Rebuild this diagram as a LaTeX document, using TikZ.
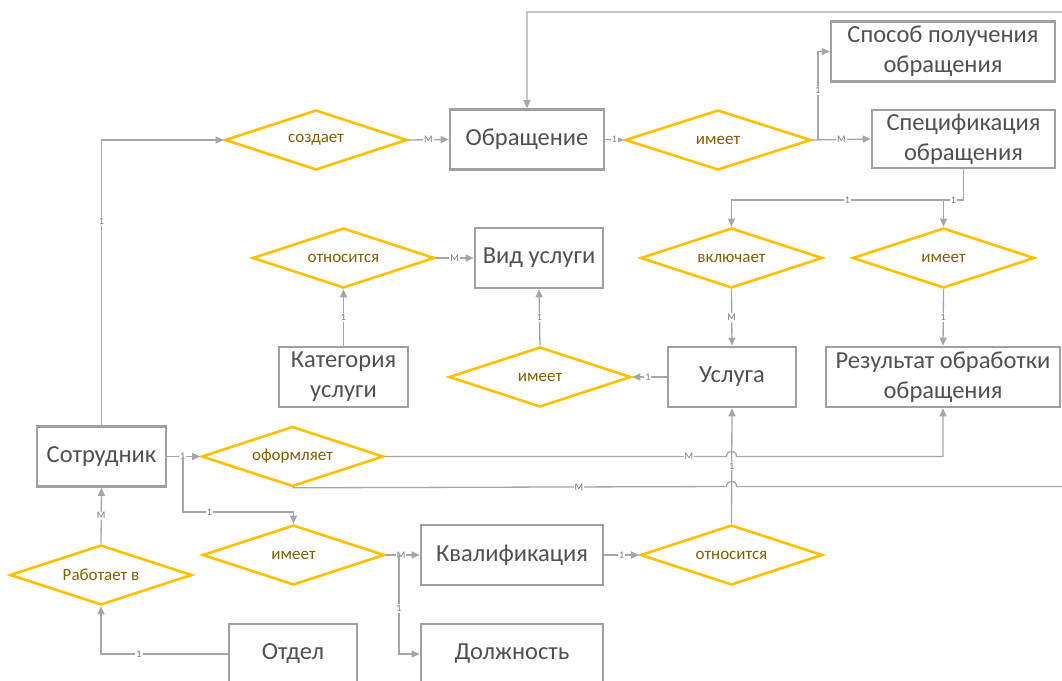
\documentclass[tikz,border=0pt]{standalone}
\usepackage{fontspec}
\setmainfont{Carlito}
\usetikzlibrary{shapes.geometric,arrows.meta}

\definecolor{entline}{RGB}{160,160,160}
\definecolor{enttext}{RGB}{80,80,80}
\definecolor{relline}{RGB}{255,192,0}
\definecolor{reltext}{RGB}{127,96,0}
\definecolor{connline}{RGB}{166,166,166}
\definecolor{cardtext}{RGB}{120,120,120}

\tikzset{
  entity/.style={draw=entline, line width=2.6pt, rectangle, text=enttext,
    font=\fontsize{24.5}{30}\selectfont, align=center, inner sep=0pt},
  relation/.style={draw=relline, line width=2.6pt, diamond, aspect=3,
    minimum width=182pt, minimum height=60pt, inner sep=0pt, text=reltext,
    font=\fontsize{17}{20}\selectfont},
  conn/.style={draw=connline, line width=1.3pt, -{Triangle[length=8pt,width=7pt]}},
  card/.style={fill=white, text=cardtext, font=\fontsize{10}{10}\selectfont, inner sep=1pt},
}

\begin{document}
\begin{tikzpicture}[x=1pt,y=-1pt]
\useasboundingbox (0,0) rectangle (1062,680);
\clip (0,0) rectangle (1062,680);

% entities
\node[entity, minimum width=154pt, minimum height=60pt] (obr)    at (527,139.5) {Обращение};
\node[entity, minimum width=224pt, minimum height=60pt] (sposob) at (943,51.5)  {Способ получения\\обращения};
\node[entity, minimum width=183pt, minimum height=58pt] (spec)   at (963.5,139) {Спецификация\\обращения};
\node[entity, minimum width=128pt, minimum height=60pt] (vid)    at (539,258)   {Вид услуги};
\node[entity, minimum width=129pt, minimum height=60pt] (kat)    at (343.5,377) {Категория\\услуги};
\node[entity, minimum width=128pt, minimum height=60pt] (usl)    at (732,377)   {Услуга};
\node[entity, minimum width=234pt, minimum height=60pt] (rez)    at (943,377)   {Результат обработки\\обращения};
\node[entity, minimum width=129pt, minimum height=60pt] (sotr)   at (101.5,456.5) {Сотрудник};
\node[entity, minimum width=182pt, minimum height=60pt] (kval)   at (512,555)   {Квалификация};
\node[entity, minimum width=182pt, minimum height=60pt] (dolzh)  at (512,654)   {Должность};
\node[entity, minimum width=128pt, minimum height=60pt] (otdel)  at (293,654)   {Отдел};

% relationships
\node[relation] (sozd)   at (316,140)     {создает};
\node[relation, minimum width=186pt] (imeet1) at (718,140) {имеет};
\node[relation] (otn1)   at (343.5,258)   {относится};
\node[relation] (vkl)    at (731.5,258)   {включает};
\node[relation] (imeet2) at (943.5,258)   {имеет};
\node[relation] (imeet3) at (540,377)     {имеет};
\node[relation] (oform)  at (292.5,456.5) {оформляет};
\node[relation] (imeet4) at (293.5,555)   {имеет};
\node[relation] (rab)    at (101,575)     {Работает в};
\node[relation] (otn2)   at (731.5,555)   {относится};

% helper points for branching lines
\coordinate (j1) at (183,456.5);
\coordinate (j2) at (818,140);
\coordinate (j3) at (399,555);
\coordinate (hy) at (0,200);
\coordinate (y512) at (0,512);
\coordinate (ytop) at (0,12);
\coordinate (farR) at (1080,486.5);
\coordinate (farT) at (1080,12);

% connectors
\draw[conn] (sotr.north) |- node[card, pos=0.357] (c1) {1} (sozd.west);
\draw[conn] (sozd.east) -- node[card] (c2) {M} (obr.west);
\draw[conn] (obr.east) -- node[card] (c3) {1} (imeet1.west);
\draw[conn] (imeet1.east) -- node[card] (c4) {M} (spec.west);
\draw[conn] (j2) |- node[card, pos=0.28] (c5) {1} (sposob.west);
\draw[conn] (spec.south) -- (spec.south |- hy) -- node[card] (c6) {1} (vkl.north |- hy) -- (vkl.north);
\draw[conn] (spec.south |- hy) -- node[card] (c7) {1} (imeet2.north |- hy) -- (imeet2.north);
\draw[conn] (vkl.south) -- node[card] (c8) {M} (usl.north);
\draw[conn] (imeet2.south) -- node[card] (c9) {1} (rez.north);
\draw[conn] (otn1.east) -- node[card] (c10) {M} (vid.west);
\draw[conn] (kat.north) -- node[card] (c11) {1} (otn1.south);
\draw[conn] (imeet3.north) -- node[card] (c12) {1} (vid.south);
\draw[conn] (usl.west) -- node[card, pos=0.55] (c13) {1} (imeet3.east);
\draw[conn] (sotr.east) -- node[card, pos=0.47] (c14) {1} (oform.west);
\draw[conn] (otn2.north) -- node[card] (c15) {1} (usl.south);
\draw[conn] (oform.east) -- node[card, pos=0.89] (c16) {M} (726.5,456.5)
  .. controls (726.5,449.5) and (736.5,449.5) .. (736.5,456.5) -| (rez.south);
\draw[conn] (oform.south) -- node[card, pos=0.66] (c17) {M} (726.5,486.5)
  .. controls (726.5,479.5) and (736.5,479.5) .. (736.5,486.5) -- (farR) -- (farT)
  -- (obr.north |- ytop) -- (obr.north);
\draw[conn] (j1) -- (j1 |- y512) -- node[card, pos=0.24] (c18) {1} (imeet4.north |- y512) -- (imeet4.north);
\draw[conn] (imeet4.east) -- node[card, pos=0.45] (c19) {M} (kval.west);
\draw[conn] (j3) |- node[card, pos=0.27] (c20) {1} (dolzh.west);
\draw[conn] (kval.east) -- node[card] (c21) {1} (otn2.west);
\draw[conn] (otdel.west) -| node[card, pos=0.35] (c22) {1} (rab.south);
\draw[conn] (rab.north) -- node[card] (c23) {M} (sotr.south);
\end{tikzpicture}
\end{document}
